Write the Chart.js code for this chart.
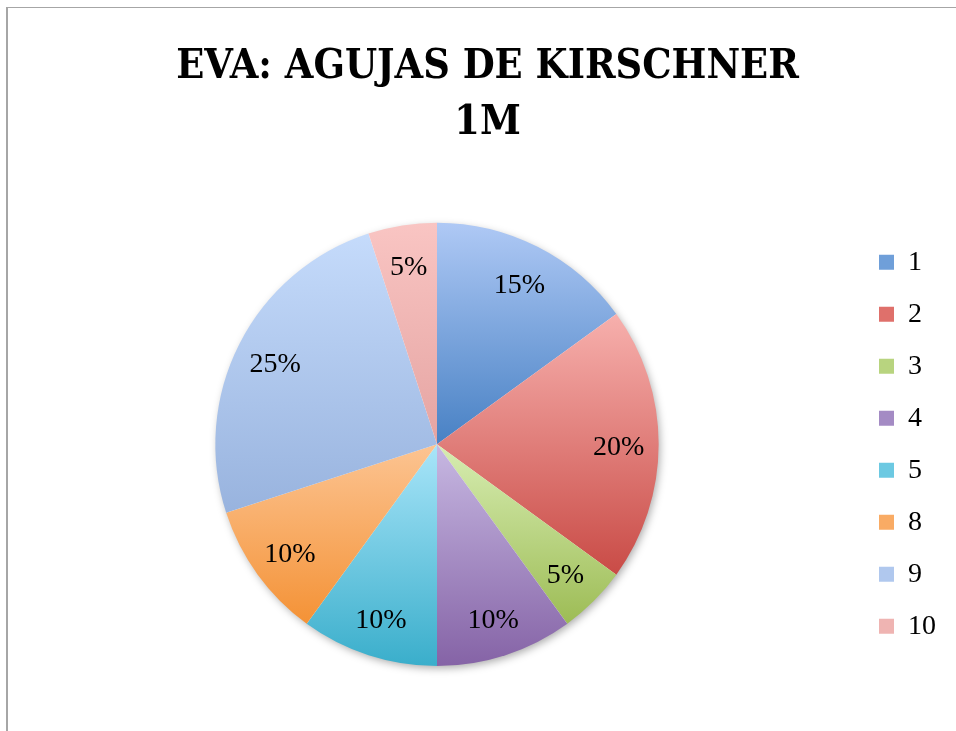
<!DOCTYPE html>
<html>
<head>
<meta charset="utf-8">
<script src="https://cdn.jsdelivr.net/npm/chart.js@4.4.1/dist/chart.umd.min.js"></script>
<style>
  body { margin: 0; background: #fff; }
  #wrap { position: relative; width: 956px; height: 731px; overflow: hidden; }
  #frame { position: absolute; left: 6px; top: 7px; width: 1000px; height: 800px;
           border-top: 1px solid #a6a6a6; border-left: 2px solid #a6a6a6; }
  canvas { position: absolute; left: 0; top: 0; }
</style>
</head>
<body>
<div id="wrap">
  <div id="frame"></div>
  <canvas id="pie" width="956" height="731"></canvas>
</div>
<script>
const titleLines = ["EVA: AGUJAS DE KIRSCHNER", "1M"];
const labels = ["1", "2", "3", "4", "5", "8", "9", "10"];
const values = [15, 20, 5, 10, 10, 10, 25, 5]; // percent of answers

// light top -> dark bottom, like the office gradient fill
const topColors = ["#afc9f5", "#f7b0ad", "#d7edb2", "#c7b8e2", "#a9e5f9", "#fcc492", "#c5dbfb", "#f9c5c3"];
const bottomColors = ["#4881c4", "#c94b46", "#9dbc55", "#8563a6", "#3aaecb", "#f49236", "#98b3de", "#e5a4a2"];
const legendColors = ["#6f9fd9", "#df706b", "#b8d47f", "#a48bc4", "#6cc9e2", "#f9ab64", "#b0c8ee", "#efb4b2"];

const total = values.reduce((a, b) => a + b, 0);

function sliceGradient(c) {
  const i = c.dataIndex;
  const chart = c.chart;
  const area = chart.chartArea;
  if (!area || c.type !== "data") return legendColors[i];
  const cx = (area.left + area.right) / 2;
  const cy = (area.top + area.bottom) / 2;
  const r = Math.min(area.width, area.height) / 2;
  let before = 0;
  for (let k = 0; k < i; k++) before += values[k];
  const a0 = -Math.PI / 2 + 2 * Math.PI * before / total;
  const a1 = a0 + 2 * Math.PI * values[i] / total;
  const ys = [cy, cy + r * Math.sin(a0), cy + r * Math.sin(a1)];
  [-Math.PI / 2, Math.PI / 2, 3 * Math.PI / 2].forEach(a => {
    if (a >= a0 && a <= a1) ys.push(cy + r * Math.sin(a));
  });
  const g = chart.ctx.createLinearGradient(0, Math.min(...ys), 0, Math.max(...ys));
  g.addColorStop(0, topColors[i]);
  g.addColorStop(1, bottomColors[i]);
  return g;
}

// soft shadow under the whole pie
const pieShadow = {
  id: "pieShadow",
  beforeDatasetsDraw(chart) {
    const arc = chart.getDatasetMeta(0).data[0];
    if (!arc) return;
    const ctx = chart.ctx;
    ctx.save();
    ctx.shadowColor = "rgba(0,0,0,0.35)";
    ctx.shadowBlur = 8;
    ctx.shadowOffsetX = 2;
    ctx.shadowOffsetY = 3;
    ctx.fillStyle = "#fff";
    ctx.beginPath();
    ctx.arc(arc.x, arc.y, arc.outerRadius - 1, 0, Math.PI * 2);
    ctx.fill();
    ctx.restore();
  }
};

// percent labels inside the slices
const pctLabels = {
  id: "pctLabels",
  afterDatasetsDraw(chart) {
    const ctx = chart.ctx;
    ctx.save();
    ctx.font = "28px 'Liberation Serif', 'DejaVu Serif', serif";
    ctx.fillStyle = "#000";
    ctx.textAlign = "center";
    ctx.textBaseline = "middle";
    chart.getDatasetMeta(0).data.forEach((arc, i) => {
      const mid = (arc.startAngle + arc.endAngle) / 2;
      const r = arc.outerRadius * 0.82;
      ctx.fillText(Math.round(values[i] / total * 100) + "%", arc.x + Math.cos(mid) * r, arc.y + Math.sin(mid) * r + 3);
    });
    ctx.restore();
  }
};

// widen the legend box a bit so the title sits where it should
const legendWidth = {
  id: "legendWidth",
  beforeLayout(chart) {
    const lg = chart.legend;
    if (lg && !lg._wider) {
      const fit = lg.fit.bind(lg);
      lg.fit = function () { fit(); this.width += 10; };
      lg._wider = true;
    }
  }
};

new Chart(document.getElementById("pie"), {
  type: "pie",
  data: {
    labels: labels,
    datasets: [{
      data: values,
      backgroundColor: sliceGradient,
      borderWidth: 0
    }]
  },
  plugins: [legendWidth, pieShadow, pctLabels],
  options: {
    responsive: false,
    animation: false,
    events: [],
    layout: { padding: { top: 0, left: 19, right: 0, bottom: 65 } },
    plugins: {
      tooltip: { enabled: false },
      title: {
        display: true,
        text: titleLines,
        color: "#000",
        font: { family: "'DejaVu Serif Condensed', 'DejaVu Sans Condensed', serif", size: 41, weight: "bold", lineHeight: 1.35 },
        padding: { top: 40, bottom: 72 }
      },
      legend: {
        position: "right",
        fullSize: false,
        labels: {
          color: "#000",
          font: { family: "'Liberation Serif', 'DejaVu Serif', serif", size: 28 },
          boxWidth: 15,
          boxHeight: 15,
          padding: 24,
          generateLabels: (chart) => labels.map((l, i) => ({
            text: l,
            fillStyle: legendColors[i],
            strokeStyle: legendColors[i],
            lineWidth: 0,
            hidden: false,
            index: i
          }))
        }
      }
    }
  }
});
</script>
</body>
</html>
